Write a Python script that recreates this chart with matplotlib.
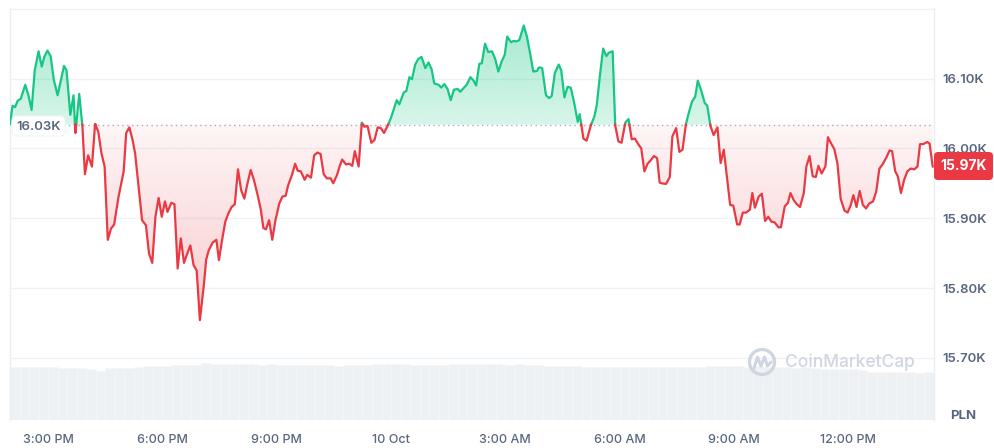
import numpy as np
import matplotlib.pyplot as plt
from matplotlib.patches import FancyBboxPatch, Circle, PathPatch
from matplotlib.path import Path
from matplotlib.colors import to_rgb

plt.rcParams['font.family'] = ['Inter', 'DejaVu Sans']

# price trace, minutes since 2:00 PM (9 Oct) -> price in PLN
minutes = [0, 4, 8, 12, 17, 24, 29, 34, 39, 45, 50, 54, 59, 64, 69, 75, 79, 85, 89, 95,
           100, 103, 109, 114, 118, 123, 129, 134, 139, 144, 149, 154, 159, 164, 171, 179, 183, 188, 193,
           197, 203, 208, 214, 219, 224, 229, 234, 239, 244, 248, 254, 259, 264, 269, 274, 279, 284,
           289, 294, 299, 305, 309, 313, 319, 325, 329, 334, 339, 344, 349, 354, 359, 364, 369, 374,
           379, 384, 390, 395, 399, 403,
           408, 413, 418, 424, 429, 434, 438, 444, 449, 453, 458, 464, 468, 474, 479, 484, 489, 494,
           499, 505, 509, 515, 519, 523, 529, 534, 539, 543, 549, 554, 558, 563, 569, 574, 579, 584,
           589, 595, 600,
           609, 613, 620, 624, 629, 633, 638, 643, 648, 654, 659, 664, 668, 675, 679, 684, 689, 694,
           699, 705, 709, 714, 719, 725, 730, 734, 739, 743, 748, 753, 759, 764, 769, 774, 779, 783,
           789, 793, 797, 802, 809, 814,
           819, 824, 830, 833, 838, 844, 849, 853, 858, 864, 868, 873, 878, 883, 888, 894, 897, 903,
           908, 915, 920, 924, 929, 934, 939, 943, 949, 953, 958, 963, 969, 974, 979, 984, 990, 994,
           999, 1004, 1009, 1014, 1019,
           1023, 1026, 1033, 1039, 1043, 1049, 1054, 1059, 1064, 1068, 1074, 1079, 1083, 1088, 1094,
           1098, 1103, 1108, 1114, 1119, 1124, 1129, 1134, 1139, 1145, 1149, 1154, 1159, 1165, 1169,
           1173, 1179, 1184, 1189, 1194, 1199, 1204, 1210, 1214, 1220, 1225, 1229,
           1234, 1239, 1244, 1250, 1254, 1259, 1264, 1269, 1273, 1278, 1284, 1288, 1293, 1298, 1303,
           1308, 1314, 1319, 1324, 1328, 1333, 1338, 1343, 1348, 1353, 1359, 1364, 1369, 1374, 1380,
           1385, 1389, 1394, 1398, 1403, 1408, 1413, 1418, 1424, 1429, 1433, 1438, 1444, 1448, 1453]
prices = [16035, 16061, 16059, 16068, 16071, 16091, 16076, 16055, 16112, 16139, 16117, 16131, 16140,
          16132, 16098, 16076, 16093, 16118, 16112, 16048, 16076, 16022, 16078, 16032, 15963, 15990,
          15974, 16035, 16024, 15993, 15974, 15869, 15885, 15891, 15931, 15967, 16022, 16030, 16012,
          15993, 15940, 15897, 15890, 15849, 15836, 15902, 15929, 15902, 15924, 15909, 15922, 15920,
          15828, 15871, 15836, 15849, 15861, 15833, 15825, 15754, 15802, 15841, 15854, 15865, 15869,
          15840, 15869, 15895, 15907, 15916, 15920, 15970, 15940, 15928, 15950, 15969, 15955, 15933,
          15912, 15886, 15884,
          15897, 15869, 15897, 15921, 15931, 15932, 15947, 15962, 15978, 15968, 15967, 15955, 15962,
          15958, 15990, 15994, 15992, 15963, 15957, 15957, 15950, 15962, 15974, 15984, 15977, 15978,
          15975, 15996, 15974, 16037, 16031, 16032, 16008, 16012, 16030, 16029, 16022, 16033, 16044,
          16069, 16063, 16080, 16082, 16102, 16099, 16120, 16128, 16131, 16115, 16123, 16113, 16093,
          16091, 16087, 16092, 16085, 16069, 16084, 16085, 16081, 16086, 16091, 16102, 16097, 16090,
          16121, 16122, 16150, 16138, 16139, 16128, 16110, 16124, 16134, 16160, 16152, 16154, 16153,
          16155, 16176, 16160,
          16136, 16110, 16111, 16116, 16115, 16076, 16072, 16075, 16108, 16120, 16112, 16073, 16088,
          16087, 16067, 16038, 16049, 16014, 16011, 16034, 16045, 16062, 16105, 16143, 16132, 16137,
          16139, 16033, 16010, 16008, 16037, 16042, 16013, 16014, 16005, 16000, 15967, 15978, 15983,
          15989, 15986,
          15951, 15950, 15949, 15959, 16017, 16029, 15995, 15998, 16033, 16048, 16067, 16074, 16097,
          16084, 16065, 16061, 16032, 16019, 16030, 15979, 15998, 15959, 15919, 15918, 15891, 15891,
          15908, 15908, 15912, 15936, 15915, 15931, 15935, 15896, 15902, 15895, 15894, 15887, 15887,
          15917, 15922, 15936,
          15926, 15920, 15916, 15936, 15974, 15989, 15960, 15959, 15975, 15964, 15974, 16016, 16007,
          15999, 15978, 15928, 15911, 15908, 15919, 15933, 15916, 15939, 15919, 15914, 15921, 15924,
          15938, 15971, 15977, 15987, 15997, 15996, 15967, 15960, 15936, 15955, 15967, 15971, 15970,
          15974, 16006, 16006, 16009, 16007, 15974]

open_price = 16034
last_label = '15.97K'

# volume, one bar per 15 minutes (relative units)
volume = [53, 53, 53.5, 53, 53, 52.5, 52, 52.5, 51, 49.5, 52, 52, 52.5, 53.5, 54, 54, 54.5,
          55, 55, 55.5, 57, 56.5, 56, 56, 56.5, 56, 55.5, 56, 55.5,
          55, 55, 55.5, 55, 55, 54.5, 55, 55, 55.5, 56, 56, 56.5, 56, 55.5, 55.5, 55, 55.5, 56, 56,
          56, 56.5, 56, 56, 55.5, 56, 55.5, 55, 54.5, 54.5, 54, 54,
          53.5, 53.5, 53.5, 53.5, 53.5, 53, 53.5, 53.5, 53.5, 53.5, 53, 53.5, 53.5,
          54, 54, 54, 54, 53.5, 54, 53, 53, 53, 52.5, 53, 52.5,
          51.5, 51, 51, 51, 50.5, 48.5, 48, 48, 48, 48, 47.5, 48]

tick_minutes = [60, 240, 420, 600, 780, 960, 1140, 1320]
tick_labels = ['3:00 PM', '6:00 PM', '9:00 PM', '10 Oct', '3:00 AM', '6:00 AM', '9:00 AM', '12:00 PM']
price_ticks = [15700, 15800, 15900, 16000, 16100, 16200]
price_labels = ['15.70K', '15.80K', '15.90K', '16.00K', '16.10K', '']

GREEN = '#16c784'
RED = '#ea3943'
GRAY = '#58667e'
GRID = '#eff2f5'

W, H = 995, 448
fig = plt.figure(figsize=(W / 100, H / 100), dpi=100)
pos = [10 / W, 28 / H, 924 / W, 412 / H]

# volume underlay
axv = fig.add_axes(pos, zorder=0)
vt = np.arange(len(volume)) * 15 + 7.5
axv.bar(vt, volume, width=15, color='#eef1f4', edgecolor='#f6f8fa', linewidth=0.4)
axv.set_xlim(0, 1455)
axv.set_ylim(0, 412)
axv.axis('off')

ax = fig.add_axes(pos, zorder=1)
ax.patch.set_visible(False)

t = np.array(minutes, float)
p = np.array(prices, float)
base = open_price

# split the trace where it crosses the opening price
t2, p2 = [t[0]], [p[0]]
for i in range(1, len(t)):
    a, b = p[i - 1] - base, p[i] - base
    if a * b < 0:
        f = a / (a - b)
        t2.append(t[i - 1] + f * (t[i] - t[i - 1]))
        p2.append(base)
    t2.append(t[i])
    p2.append(p[i])
t2 = np.array(t2)
p2 = np.array(p2)


def gradient_fill(upper, lower, color, a_lo, a_hi, y0, y1):
    verts = np.column_stack([np.r_[t2, t2[::-1]], np.r_[upper, lower[::-1]]])
    patch = PathPatch(Path(verts), facecolor='none', edgecolor='none', transform=ax.transData)
    ax.add_patch(patch)
    img = np.zeros((200, 1, 4))
    img[..., :3] = to_rgb(color)
    img[:, 0, 3] = np.linspace(a_lo, a_hi, 200)
    im = ax.imshow(img, extent=[t2[0], t2[-1], y0, y1], origin='lower', aspect='auto',
                   zorder=1, interpolation='bilinear')
    im.set_clip_path(patch)


basel = np.full_like(p2, base)
gradient_fill(np.maximum(p2, base), basel, GREEN, 0.17, 0.38, base, p2.max())
gradient_fill(basel, np.minimum(p2, base), RED, 0.26, 0.05, p2.min(), base)

ax.axhline(base, color='#a6b0c3', lw=1, linestyle=(0, (1, 2.5)), zorder=2)
ax.plot(t2, np.where(p2 >= base, p2, np.nan), color=GREEN, lw=1.6, zorder=3,
        solid_joinstyle='round')
ax.plot(t2, np.where(p2 <= base, p2, np.nan), color=RED, lw=1.6, zorder=3,
        solid_joinstyle='round')

ax.set_xlim(0, 1455)
ax.set_ylim(15611, 16201)
ax.set_yticks(price_ticks)
ax.set_yticklabels(price_labels)
ax.yaxis.tick_right()
ax.tick_params(axis='y', length=0, pad=6, labelsize=9.5, labelcolor=GRAY)
ax.set_xticks(tick_minutes)
ax.set_xticklabels(tick_labels)
ax.tick_params(axis='x', length=0, pad=10, labelsize=9, labelcolor=GRAY)
for lab in ax.get_yticklabels():
    lab.set_fontweight('semibold')
for lab in ax.get_xticklabels():
    lab.set_fontweight('medium')
ax.grid(axis='y', color=GRID, lw=1)
ax.set_axisbelow(True)
for s in ['top', 'bottom']:
    ax.spines[s].set_visible(False)
for s in ['left', 'right']:
    ax.spines[s].set_color('#eaedf1')
    ax.spines[s].set_linewidth(1)

# overlay for labels and watermark (pixel coordinates)
ov = fig.add_axes([0, 0, 1, 1], zorder=5)
ov.set_xlim(0, W)
ov.set_ylim(H, 0)
ov.axis('off')

ov.add_patch(FancyBboxPatch((12, 116), 53, 20, boxstyle='round,pad=0,rounding_size=5',
                            facecolor='white', edgecolor='#f1f3f6', lw=0.8))
ov.text(16.5, 127, '16.03K', color=GRAY, fontsize=9.5, fontweight='semibold', va='center', ha='left')

ov.add_patch(FancyBboxPatch((934, 152), 59, 28, boxstyle='round,pad=0,rounding_size=4',
                            facecolor=RED, edgecolor='none'))
ov.text(963.5, 166.5, last_label, color='white', fontsize=10, fontweight='bold',
        va='center', ha='center')

ov.text(963, 416, 'PLN', color=GRAY, fontsize=9.5, fontweight='bold', va='center', ha='center')

# CoinMarketCap watermark
wm = '#cfd6e2'
ov.add_patch(Circle((762, 362), 12.5, facecolor='none', edgecolor=wm, lw=2.4))
ov.plot([754, 757.5, 761, 764.5, 767.5, 771], [368, 357, 366, 357, 366, 362], color=wm, lw=2.2,
        solid_joinstyle='round', solid_capstyle='round')
ov.text(785, 362, 'CoinMarketCap', color=wm, fontsize=12.5, fontweight='medium',
        va='center', ha='left')

fig.savefig('out.png', dpi=100)
